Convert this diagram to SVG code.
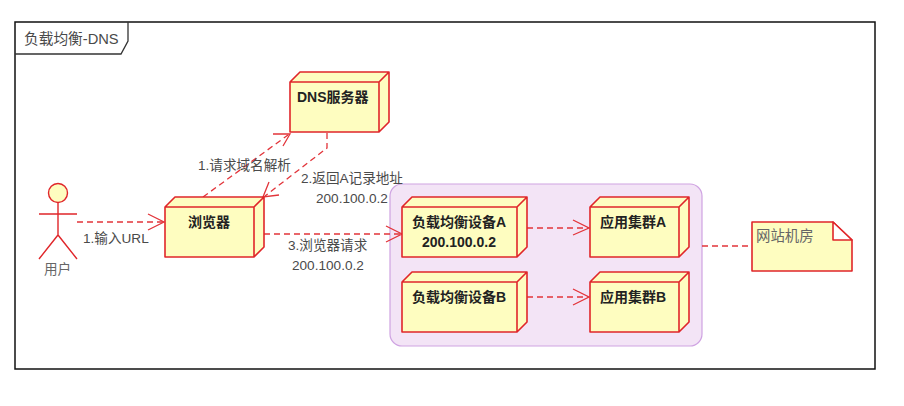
<svg xmlns="http://www.w3.org/2000/svg" width="904" height="406" viewBox="0 0 904 406">
  <style>
    text { font-family: "Liberation Sans", "Noto Sans CJK SC", sans-serif; font-size: 13.6px; fill: #4a4a4a; }
    .node-label { font-size: 14px; font-weight: bold; fill: #222; }
    .title { font-size: 14.7px; }
    .note-label { font-size: 14.4px; fill: #666; }
    .box { fill: #fefdc0; stroke: #e0262a; stroke-width: 1.6; stroke-linejoin: round; }
    .dash { fill: none; stroke: #e2343a; stroke-width: 1.3; stroke-dasharray: 6 4; }
    .head { fill: none; stroke: #e2343a; stroke-width: 1.3; }
    .limb { fill: none; stroke: #e0262a; stroke-width: 1.4; }
  </style>
  <defs>
    <path id="cube" d="M0 10 L10 0 H99 V50 L89 60 H0 Z M0 10 H89 V60 M89 10 L99 0" class="box"/>
    <path id="cube-wide" d="M0 10 L10 0 H125 V50 L115 60 H0 Z M0 10 H115 V60 M115 10 L125 0" class="box"/>
  </defs>
  <rect width="904" height="406" fill="#fff"/>

  <g id="frame">
    <rect x="15" y="22" width="860" height="347" fill="#fff" stroke="#111" stroke-width="1.5"/>
    <path d="M15 54 H121 L128 41 V22" fill="none" stroke="#333" stroke-width="1.3"/>
    <text class="title" x="24" y="44">负载均衡-DNS</text>
  </g>

  <g id="cluster">
    <rect x="390" y="184" width="312" height="162" rx="12" fill="#f3e4f6" stroke="#cfa3e2" stroke-width="1.2"/>
  </g>

  <g id="connectors">
    <path class="dash" d="M77 222 H163"/>
    <path class="head" d="M148 214 L164 222 L148 230"/>
    <path class="dash" d="M203 197 L288 135"/>
    <path class="head" d="M273 134 H290 L283 146"/>
    <path class="dash" d="M327 133 V148 L265 196"/>
    <path class="head" d="M269 182 L263 197 L279 195"/>
    <path class="dash" d="M264 234 H400"/>
    <path class="head" d="M386 226 L402 234 L386 242"/>
    <path class="dash" d="M527 228 H588"/>
    <path class="head" d="M573 220 L589 228 L573 235"/>
    <path class="dash" d="M527 297 H588"/>
    <path class="head" d="M573 289 L589 297 L573 305"/>
    <path class="dash" d="M702 246 H750"/>
    <text x="83" y="243">1.输入URL</text>
    <text x="198" y="170">1.请求域名解析</text>
    <text x="301" y="183">2.返回A记录地址</text>
    <text x="316" y="203">200.100.0.2</text>
    <text x="288" y="250">3.浏览器请求</text>
    <text x="292" y="270">200.100.0.2</text>
  </g>

  <g id="user">
    <circle cx="58" cy="193" r="9.5" fill="#fefdc0" stroke="#e0262a" stroke-width="1.4"/>
    <path class="limb" d="M58 203 V235 M39 214 H77 M39 259 L58 235 L77 259"/>
    <text x="44" y="274" fill="#666" style="fill:#666">用户</text>
  </g>

  <g id="browser">
    <use href="#cube" x="165" y="197"/>
    <text class="node-label" x="188" y="227">浏览器</text>
  </g>

  <g id="dns-server">
    <use href="#cube" x="290" y="72"/>
    <text class="node-label" x="297" y="102">DNS服务器</text>
  </g>

  <g id="balancer-a">
    <use href="#cube-wide" x="402" y="197"/>
    <text class="node-label" x="412" y="227">负载均衡设备A</text>
    <text class="node-label" x="422" y="247">200.100.0.2</text>
  </g>

  <g id="balancer-b">
    <use href="#cube-wide" x="402" y="272"/>
    <text class="node-label" x="412" y="302">负载均衡设备B</text>
  </g>

  <g id="app-a">
    <use href="#cube" x="590" y="197"/>
    <text class="node-label" x="600" y="227">应用集群A</text>
  </g>

  <g id="app-b">
    <use href="#cube" x="590" y="272"/>
    <text class="node-label" x="600" y="302">应用集群B</text>
  </g>

  <g id="site-note">
    <path class="box" d="M752 222 H833 L852 240 V271 H752 Z"/>
    <path d="M833 222 V240 H852 Z" fill="#fff" stroke="#e0262a" stroke-width="1.6" stroke-linejoin="round"/>
    <text class="note-label" x="756" y="241">网站机房</text>
  </g>
</svg>
